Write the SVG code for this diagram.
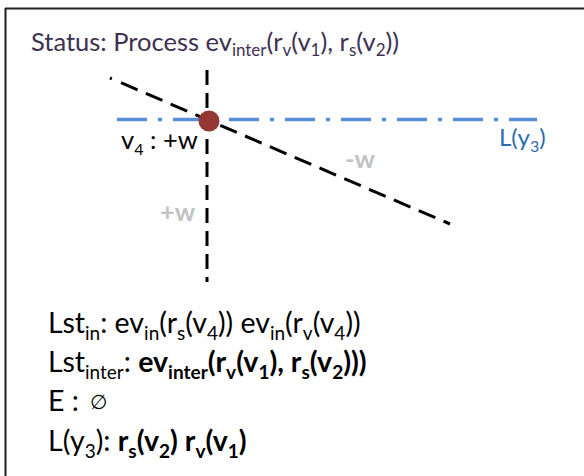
<svg xmlns="http://www.w3.org/2000/svg" width="584" height="476" viewBox="0 0 584 476">
<style>
  .t { font-family: Lato, "Liberation Sans", sans-serif; }
  .title { font-size: 25.5px; fill: #403152; }
  .body { font-size: 28.5px; fill: #000; }
  .tsub { font-size: 17px; }
  .sub { font-size: 19px; }
  .b { font-weight: bold; }
  .gray { font-size: 25.5px; font-weight: bold; fill: #c3c3c3; }
  .lbl { font-size: 25.5px; fill: #000; }
  .blue { font-size: 24px; fill: #2E6BB0; }
  .lsub { font-size: 16px; }
</style>
<rect x="0" y="0" width="584" height="476" fill="#ffffff"/>
<g id="frame" stroke="#1e1e1e" stroke-width="2" fill="none">
  <line x1="5" y1="8.5" x2="584" y2="8.5"/>
  <line x1="5.5" y1="8" x2="5.5" y2="476"/>
</g>
<text id="title" class="t title" x="31" y="51">Status: Process ev<tspan class="tsub" dy="5">inter</tspan><tspan dy="-5">(r</tspan><tspan class="tsub" dy="5">v</tspan><tspan dy="-5">(v</tspan><tspan class="tsub" dy="5">1</tspan><tspan dy="-5">), r</tspan><tspan class="tsub" dy="5">s</tspan><tspan dy="-5">(v</tspan><tspan class="tsub" dy="5">2</tspan><tspan dy="-5">))</tspan></text>
<g id="connectors" fill="none">
  <line id="line-y3" x1="117" y1="119.5" x2="537" y2="119.5" stroke="#558ED5" stroke-width="3.5" stroke-dasharray="30 11 4 11"/>
  <line id="vertical" x1="207" y1="70" x2="207" y2="282" stroke="#000" stroke-width="3" stroke-dasharray="15 8"/>
  <line id="diagonal" x1="110" y1="78" x2="450" y2="224" stroke="#000" stroke-width="3" stroke-dasharray="2 10 18 9 18 9 18 9 18 9 18 9 18 9 18 9 18 9 18 9 18 9 18 9 18 9 18 9 18 9"/>
</g>
<g id="point-v4">
  <circle cx="209" cy="121" r="10.5" fill="#943634"/>
</g>
<g id="label-v4">
  <text class="t lbl" x="121" y="149">v<tspan class="lsub" dy="6">4</tspan><tspan dy="-6"> : +w</tspan></text>
</g>
<g id="label-ly3">
  <text class="t blue" x="499" y="146">L(y<tspan class="lsub" dy="6">3</tspan><tspan dy="-6">)</tspan></text>
</g>
<g id="label-minus-w">
  <text class="t gray" x="345" y="168">-w</text>
</g>
<g id="label-plus-w">
  <text class="t gray" x="160" y="221">+w</text>
</g>
<g id="status-list">
  <text class="t body" x="48" y="333">Lst<tspan class="sub" dy="7">in</tspan><tspan dy="-7">: ev</tspan><tspan class="sub" dy="7">in</tspan><tspan dy="-7">(r</tspan><tspan class="sub" dy="7">s</tspan><tspan dy="-7">(v</tspan><tspan class="sub" dy="7">4</tspan><tspan dy="-7">)) ev</tspan><tspan class="sub" dy="7">in</tspan><tspan dy="-7">(r</tspan><tspan class="sub" dy="7">v</tspan><tspan dy="-7">(v</tspan><tspan class="sub" dy="7">4</tspan><tspan dy="-7">))</tspan></text>
  <text class="t body" x="48" y="372">Lst<tspan class="sub" dy="7">inter</tspan><tspan dy="-7">: </tspan><tspan class="b">ev</tspan><tspan class="sub b" dy="7">inter</tspan><tspan class="b" dy="-7">(r</tspan><tspan class="sub b" dy="7">v</tspan><tspan class="b" dy="-7">(v</tspan><tspan class="sub b" dy="7">1</tspan><tspan class="b" dy="-7">), r</tspan><tspan class="sub b" dy="7">s</tspan><tspan class="b" dy="-7">(v</tspan><tspan class="sub b" dy="7">2</tspan><tspan class="b" dy="-7">)))</tspan></text>
  <text class="t body" x="48" y="411">E :</text>
  <text x="90" y="409" font-family="'DejaVu Sans', sans-serif" font-size="20px" fill="#000">∅</text>
  <text class="t body" x="48" y="451">L(y<tspan class="sub" dy="7">3</tspan><tspan dy="-7">): </tspan><tspan class="b">r</tspan><tspan class="sub b" dy="7">s</tspan><tspan class="b" dy="-7">(v</tspan><tspan class="sub b" dy="7">2</tspan><tspan class="b" dy="-7">) r</tspan><tspan class="sub b" dy="7">v</tspan><tspan class="b" dy="-7">(v</tspan><tspan class="sub b" dy="7">1</tspan><tspan class="b" dy="-7">)</tspan></text>
</g>
</svg>
